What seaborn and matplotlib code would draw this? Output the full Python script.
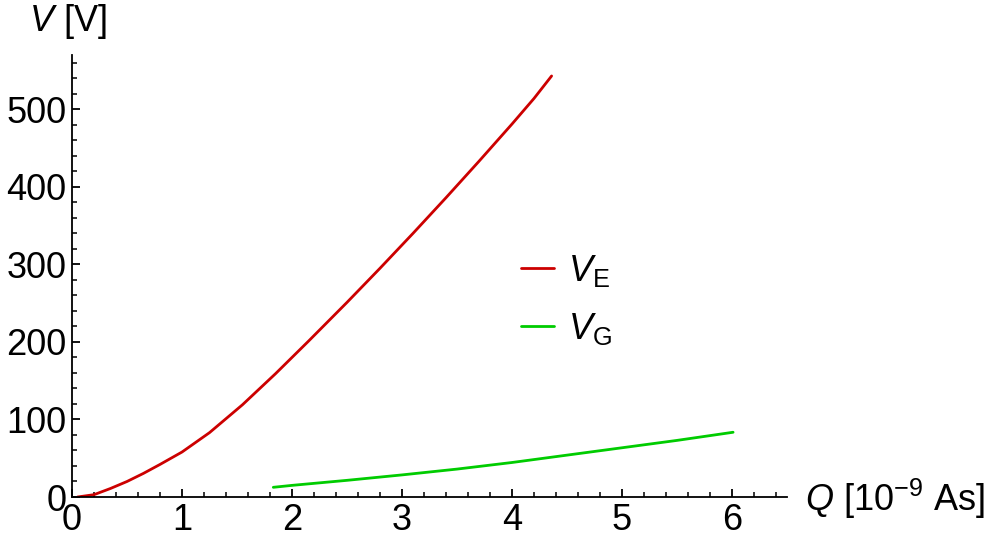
import pandas as pd
import numpy as np
import seaborn as sns
import matplotlib.pyplot as plt

q_e = [0.05, 0.2, 0.35, 0.5, 0.65, 0.8, 1.0, 1.25, 1.55, 1.85, 2.15, 2.5, 2.8, 3.1, 3.4, 3.7, 4.0, 4.2, 4.36]
v_e = [0, 3, 11, 20, 30.5, 42, 58, 83, 119, 159, 201, 251, 295, 340, 386, 433, 481, 514, 543]

q_g = [1.83, 2.0, 2.5, 3.0, 3.5, 4.0, 4.5, 5.0, 5.5, 6.01]
v_g = [12.5, 15, 21.5, 28.5, 36, 44.5, 54, 63.5, 73, 83.5]

labels = [r'$V_{\mathrm{E}}$', r'$V_{\mathrm{G}}$']
colors = ['#cc0000', '#00cc00']

df = pd.concat([
    pd.DataFrame({'Q': q_e, 'V': v_e, 'series': labels[0]}),
    pd.DataFrame({'Q': q_g, 'V': v_g, 'series': labels[1]}),
])

sns.set_style('ticks')
plt.rcParams['font.family'] = ['Liberation Sans', 'DejaVu Sans']
plt.rcParams['mathtext.fontset'] = 'custom'
plt.rcParams['mathtext.rm'] = 'Liberation Sans'
plt.rcParams['mathtext.it'] = 'Liberation Sans:italic'
plt.rcParams['text.color'] = 'black'
plt.rcParams['axes.labelcolor'] = 'black'
plt.rcParams['xtick.color'] = 'black'
plt.rcParams['ytick.color'] = 'black'

fig = plt.figure(figsize=(10, 5.47), dpi=100)
ax = fig.add_axes([0.072, 0.0914, 0.715, 0.808])

sns.lineplot(data=df, x='Q', y='V', hue='series', palette=colors,
             sort=False, linewidth=2, ax=ax)

ax.set_xlim(0, 6.5)
ax.set_ylim(0, 570)
ax.set_xticks([0, 1, 2, 3, 4, 5, 6])
ax.set_yticks([0, 100, 200, 300, 400, 500])
ax.set_xticks(np.arange(0, 6.5, 0.2), minor=True)
ax.set_yticks(np.arange(0, 570, 20), minor=True)
ax.tick_params(which='major', direction='in', length=6, width=1.3, labelsize=26, pad=4,
               color='black', labelcolor='black')
ax.tick_params(which='minor', direction='in', length=3.5, width=1.1, color='black')
for s in ['top', 'right']:
    ax.spines[s].set_visible(False)
for s in ['left', 'bottom']:
    ax.spines[s].set_linewidth(1.3)
    ax.spines[s].set_color('black')

ax.set_xlabel(r'$Q$ [10$^{-9}$ As]', fontsize=26, color='black')
ax.xaxis.set_label_coords(1.025, -0.005)
ax.xaxis.label.set_ha('left')
ax.xaxis.label.set_va('center')
ax.set_ylabel(r'$V$ [V]', fontsize=26, rotation=0, color='black')
ax.yaxis.set_label_coords(-0.06, 1.075)
ax.yaxis.label.set_ha('left')
ax.yaxis.label.set_va('center')

leg = ax.legend(loc='center left', bbox_to_anchor=(0.628, 0.446), frameon=False,
                fontsize=26, handlelength=0.9, handletextpad=0.4, labelspacing=0.6,
                borderaxespad=0, borderpad=0)
for t in leg.get_texts():
    t.set_color('black')

fig.savefig('out.png', dpi=100)
